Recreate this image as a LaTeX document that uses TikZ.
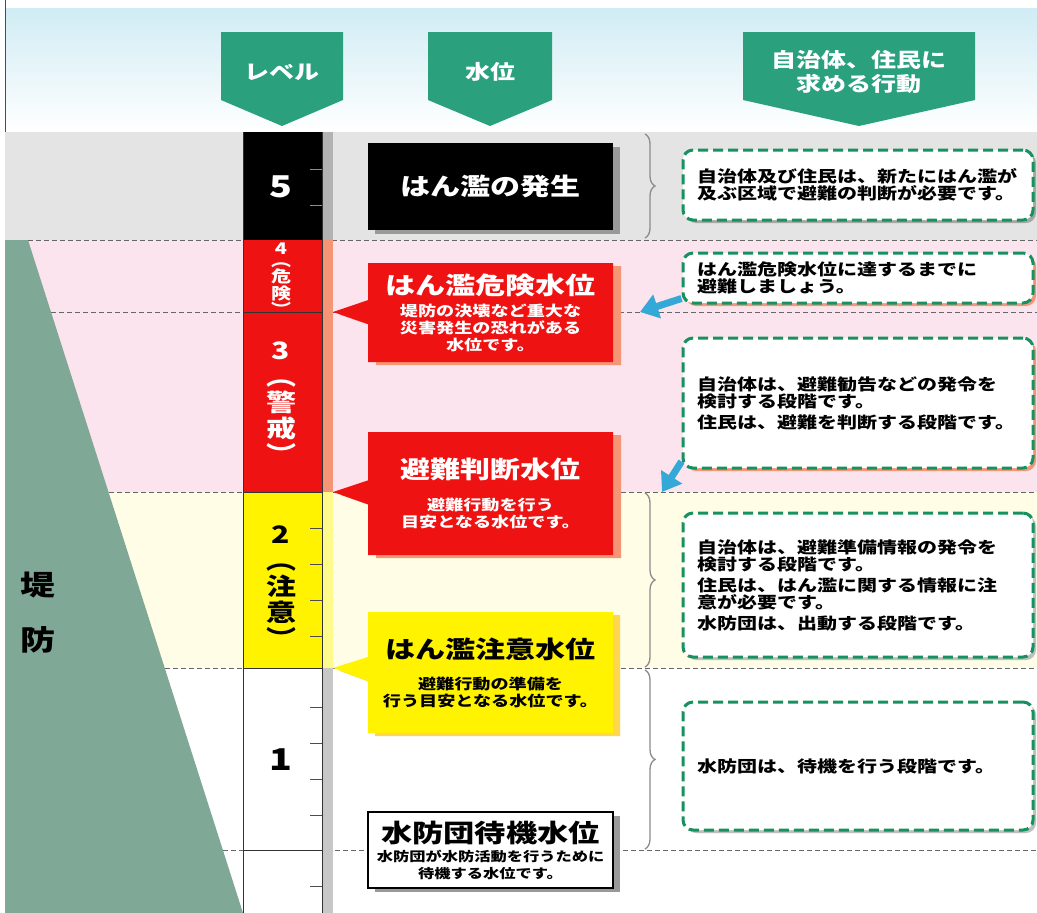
\documentclass[tikz,border=0pt]{standalone}
\usepackage{fontspec}
\setmainfont{Noto Sans CJK JP}[FakeStretch=1.25]
\usetikzlibrary{shapes.callouts,shadows,decorations.pathreplacing,arrows.meta}
\definecolor{hdgreen}{RGB}{42,160,125}
\definecolor{skyband}{RGB}{208,236,244}
\definecolor{band5}{RGB}{228,228,228}
\definecolor{bandred}{RGB}{252,228,238}
\definecolor{bandyel}{RGB}{255,253,230}
\definecolor{damgreen}{RGB}{128,168,150}
\definecolor{lvred}{RGB}{238,18,18}
\definecolor{lvyel}{RGB}{255,243,0}
\definecolor{salmon}{RGB}{244,150,118}
\definecolor{dashgreen}{RGB}{22,145,95}
\definecolor{arrowblue}{RGB}{52,168,214}
\newcommand{\wlttl}{\fontsize{24}{28}\selectfont}
\newcommand{\wlsub}{\fontsize{14.5}{17}\selectfont}
\newcommand{\stbttl}{\fontsize{25}{30}\selectfont}
\newcommand{\stbsub}{\fontsize{13}{17}\selectfont}

\begin{document}
\begin{tikzpicture}[x=1pt, y=-1pt,
		hdtext/.style={text=white, align=center, font=\fontsize{20}{24}\selectfont\bfseries},
		sepline/.style={draw=black!60, dash pattern=on 5pt off 3pt, line width=0.8pt},
		lvtext/.style={align=center, font=\fontsize{24}{26}\selectfont\bfseries},
		lvsmall/.style={align=center, text=white, inner sep=0pt, font=\fontsize{16}{12.5}\selectfont\bfseries},
		lvnum/.style={font=\fontsize{30}{32}\selectfont\bfseries},
		damtext/.style={font=\fontsize{28}{30}\selectfont\bfseries},
		wlbase/.style={minimum width=245pt, align=center, inner sep=2pt,
			font=\wlsub\bfseries},
		wlcall/.style={wlbase, rectangle callout, callout pointer width=24pt},
		redside/.style={drop shadow={shadow xshift=8pt, shadow yshift=-3pt, fill=salmon, opacity=1}},
		grayside/.style={drop shadow={shadow xshift=7pt, shadow yshift=-4pt, fill=black!40, opacity=1}},
		yelside/.style={drop shadow={shadow xshift=7pt, shadow yshift=-3pt, fill=lvyel!60!orange!70, opacity=1}},
		actbox/.style={draw=dashgreen, dash pattern=on 10pt off 5pt, line width=3pt,
			rounded corners=10pt, fill=white, minimum width=350pt, text width=322pt,
			align=left, font=\fontsize{16}{17.5}\selectfont\bfseries},
		actshadow/.style={drop shadow={shadow xshift=3pt, shadow yshift=-3pt, fill=#1, opacity=1}},
		bluearrow/.style={draw=arrowblue, line width=7pt, -{Triangle[length=18pt,width=24pt]}},
		lvbrace/.style={draw=black!45, line width=1.3pt, decorate, decoration={brace, amplitude=10pt}}]
	\useasboundingbox (0,0) rectangle (1037,913);
	% bands
	\fill[white] (0,0) rectangle (1037,913);
	\shade[top color=skyband, bottom color=white] (5,8) rectangle (1037,132);
	\fill[band5] (5,132) rectangle (1037,240);
	\fill[bandred] (5,240) rectangle (1037,492);
	\fill[bandyel] (5,492) rectangle (1037,668);
	\draw[black!70] (5,0) -- (5,132);
	% embankment
	\fill[damgreen] (5,240) -- (28,240) -- (243,913) -- (5,913) -- cycle;
	\node[damtext] (dam1) at (38,585) {堤};
	\node[damtext] (dam2) at (38,640) {防};
	\foreach \y in {240,312,492,668,850} {
		\pgfmathsetmacro{\xs}{28+(\y-240)/673*215}
		\draw[sepline] (\xs,\y) -- (1037,\y);
	}
	% headers
	\foreach \cx/\hw/\lbl [count=\i] in {282/61/レベル, 490/62/水位, 859/116/{自治体、住民に\\求める行動}} {
		\fill[hdgreen] ({\cx-\hw},32) -- ({\cx+\hw},32) -- ({\cx+\hw},100) -- (\cx,126) -- ({\cx-\hw},100) -- cycle;
		\node[hdtext] (hd\i) at (\cx,72) {\lbl};
	}
	% level column
	\fill[black] (243,132) rectangle (322,240);
	\fill[lvred] (243,240) rectangle (322,492);
	\fill[lvyel] (243,492) rectangle (322,668);
	\fill[black!30] (322,132) rectangle (333,240);
	\fill[salmon] (322,240) rectangle (333,492);
	\fill[lvyel!45] (322,492) rectangle (333,668);
	\fill[black!22] (322,668) rectangle (333,913);
	\draw[black!80, line width=0.8pt] (243,132) -- (243,913);
	\draw[black!80, line width=0.8pt] (322,132) -- (322,913);
	\foreach \y in {312,492,668,850}
		\draw[black!80, line width=0.8pt] (243,\y) -- (322,\y);
	\foreach \y in {169,205}
		\draw[black!45] (310,\y) -- (322,\y);
	\foreach \y in {528,564,600,636,707,743,779,815,886}
		\draw[black!70] (310,\y) -- (322,\y);
	\node[lvnum, text=white] (lv5) at (281,187) {5};
	\node[lvsmall] (lv4) at (281,279) {4\\︵\\危\\険\\︶};
	\node[lvtext, text=white] (lv3) at (281,403) {3\\︵\\警\\戒\\︶};
	\node[lvtext] (lv2) at (281,587) {2\\︵\\注\\意\\︶};
	\node[lvnum] (lv1) at (281,760) {1};
	% water levels
	\coordinate (p4) at (333,312);
	\coordinate (p3) at (333,492);
	\coordinate (p2) at (333,668);
	\node[wlbase, fill=black, text=white, minimum height=87pt, grayside] (wl5) at (490.5,186.5) {\wlttl はん濫の発生};
	\node[wlcall, fill=lvred, text=white, minimum height=99pt, callout absolute pointer={(p4)}, redside] (wl4) at (490.5,312.5)
		{\wlttl はん濫危険水位\\[5pt]堤防の決壊など重大な\\災害発生の恐れがある\\水位です。};
	\node[wlcall, fill=lvred, text=white, minimum height=123pt, callout absolute pointer={(p3)}, redside] (wl3) at (490.5,493.5)
		{\wlttl 避難判断水位\\[15pt]避難行動を行う\\目安となる水位です。};
	\node[wlcall, fill=lvyel, text=black, minimum height=121pt, callout absolute pointer={(p2)}, yelside] (wl2) at (490.5,672.5)
		{\wlttl はん濫注意水位\\[14pt]避難行動の準備を\\行う目安となる水位です。};
	\node[wlbase, draw=black, line width=1.2pt, fill=white, minimum height=76pt, grayside, font=\stbsub\bfseries] (wl1) at (490.5,850)
		{\stbttl 水防団待機水位\\[2pt]水防団が水防活動を行うために\\待機する水位です。};
	% braces
	\draw[lvbrace] (645,134) -- (645,238);
	\draw[lvbrace] (645,493) -- (645,667);
	\draw[lvbrace] (645,670) -- (645,849);
	% actions
	\node[actbox, actshadow=black!35, minimum height=70pt] (act5) at (858,185)
		{自治体及び住民は、新たにはん濫が\\及ぶ区域で避難の判断が必要です。};
	\node[actbox, actshadow=salmon, minimum height=50pt] (act4) at (858,278)
		{はん濫危険水位に達するまでに\\避難しましょう。};
	\node[actbox, actshadow=salmon, minimum height=130pt] (act3) at (858,403)
		{自治体は、避難勧告などの発令を\\検討する段階です。\\[3pt]住民は、避難を判断する段階です。};
	\node[actbox, actshadow=black!25, minimum height=144pt] (act2) at (858,585)
		{自治体は、避難準備情報の発令を\\検討する段階です。\\[3pt]住民は、はん濫に関する情報に注\\意が必要です。\\[3pt]水防団は、出動する段階です。};
	\node[actbox, actshadow=black!25, minimum height=128pt] (act1) at (858,766)
		{水防団は、待機を行う段階です。};
	% arrows
	\coordinate (a4) at (640,312);
	\coordinate (a3) at (662,492);
	\draw[bluearrow] ([yshift=6pt]act4.south west) -- (a4);
	\draw[bluearrow] ([yshift=8pt]act3.south west) -- (a3);
\end{tikzpicture}
\end{document}
